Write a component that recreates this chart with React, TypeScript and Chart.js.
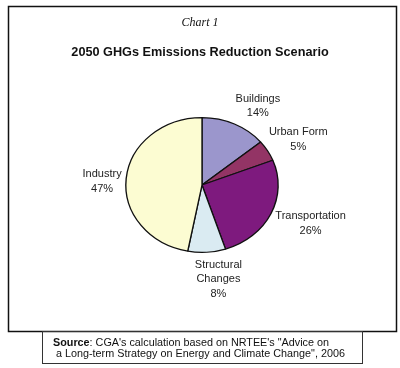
import React, { useEffect, useRef } from "react";
import { Chart, registerables } from "chart.js";

Chart.register(...registerables);

const CHART_LABEL = "Chart 1";
const TITLE = "2050 GHGs Emissions Reduction Scenario";
const CATEGORIES: string[][] = [
  ["Buildings"],
  ["Urban Form"],
  ["Transportation"],
  ["Structural", "Changes"],
  ["Industry"],
];
const VALUES = [14, 5, 26, 8, 47];
const COLORS = ["#9B96CC", "#933465", "#7E1A7E", "#DAEBF2", "#FCFCD2"];
const SOURCE_BOLD = "Source";
const SOURCE_LINE1 = ": CGA's calculation based on NRTEE's \"Advice on";
const SOURCE_LINE2 = " a Long-term Strategy on Energy and Climate Change\", 2006";

// style: horizontal stretch of the pie (the original is slightly elliptical)
const STRETCH_X = 1.13;
// label placement nudges (style, relative to arc-derived anchor)
const LABEL_NUDGE: [number, number][] = [
  [9, 9],
  [1.5, 4],
  [9, -3],
  [9.5, -3],
  [9.7, 5.6],
];

const decor = {
  id: "decor",
  beforeDraw(chart: any) {
    const ctx = chart.ctx as CanvasRenderingContext2D;
    ctx.save();
    ctx.fillStyle = "#ffffff";
    ctx.fillRect(0, 0, chart.width, chart.height);
    ctx.strokeStyle = "#111";
    ctx.lineWidth = 1.5;
    ctx.strokeRect(8.5, 6.5, 388, 325);
    ctx.lineWidth = 1;
    ctx.strokeStyle = "#333";
    ctx.strokeRect(42.5, 331.5, 320, 32);
    ctx.fillStyle = "#111";
    ctx.textAlign = "center";
    ctx.textBaseline = "middle";
    ctx.font = "italic 12px 'Liberation Serif'";
    ctx.fillText(CHART_LABEL, 200, 23);
    ctx.font = "bold 12.7px 'Liberation Sans'";
    ctx.fillText(TITLE, 200, 52);
    ctx.textAlign = "left";
    ctx.font = "bold 10.8px 'Liberation Sans'";
    ctx.fillText(SOURCE_BOLD, 53, 343);
    const w = ctx.measureText(SOURCE_BOLD).width;
    ctx.font = "10.8px 'Liberation Sans'";
    ctx.fillText(SOURCE_LINE1, 53 + w, 343);
    ctx.fillText(SOURCE_LINE2, 53, 354);
    ctx.restore();
  },
  beforeDatasetsDraw(chart: any) {
    const ctx = chart.ctx as CanvasRenderingContext2D;
    const a = chart.chartArea;
    const cx = (a.left + a.right) / 2;
    const cy = (a.top + a.bottom) / 2;
    ctx.save();
    ctx.translate(cx, cy);
    ctx.scale(STRETCH_X, 1);
    ctx.translate(-cx, -cy);
  },
  afterDatasetsDraw(chart: any) {
    const ctx = chart.ctx as CanvasRenderingContext2D;
    ctx.restore();
    const meta = chart.getDatasetMeta(0);
    ctx.save();
    ctx.fillStyle = "#222";
    ctx.font = "11px 'Liberation Sans'";
    ctx.textAlign = "center";
    ctx.textBaseline = "middle";
    meta.data.forEach((arc: any, i: number) => {
      const p = arc.getProps(["x", "y", "startAngle", "endAngle", "outerRadius"], true);
      const mid = (p.startAngle + p.endAngle) / 2;
      const d = p.outerRadius + 30;
      const lx = p.x + STRETCH_X * d * Math.cos(mid) + LABEL_NUDGE[i][0];
      const ly = p.y + d * Math.sin(mid) + LABEL_NUDGE[i][1];
      const lines = [...CATEGORIES[i], VALUES[i] + "%"];
      const lh = 14.5;
      lines.forEach((t, k) => {
        ctx.fillText(t, lx, ly + (k - (lines.length - 1) / 2) * lh);
      });
    });
    ctx.restore();
  },
};

export default function App() {
  const ref = useRef<HTMLCanvasElement | null>(null);
  useEffect(() => {
    if (!ref.current) return;
    const chart = new Chart(ref.current, {
      type: "pie",
      data: {
        labels: CATEGORIES.map((c) => c.join(" ")),
        datasets: [
          {
            data: VALUES,
            backgroundColor: COLORS,
            borderColor: "#111",
            borderWidth: 1.2,
          },
        ],
      },
      options: {
        responsive: false,
        animation: false,
        devicePixelRatio: 1,
        layout: { padding: { left: 134, right: 130, top: 117, bottom: 115 } },
        plugins: {
          legend: { display: false },
          tooltip: { enabled: false },
          title: { display: false },
        },
      },
      plugins: [decor],
    });
    return () => chart.destroy();
  }, []);
  return (
    <div style={{ position: "absolute", left: 0, top: 0, width: 400, height: 368 }}>
      <canvas ref={ref} width={400} height={368} style={{ display: "block" }} />
    </div>
  );
}
